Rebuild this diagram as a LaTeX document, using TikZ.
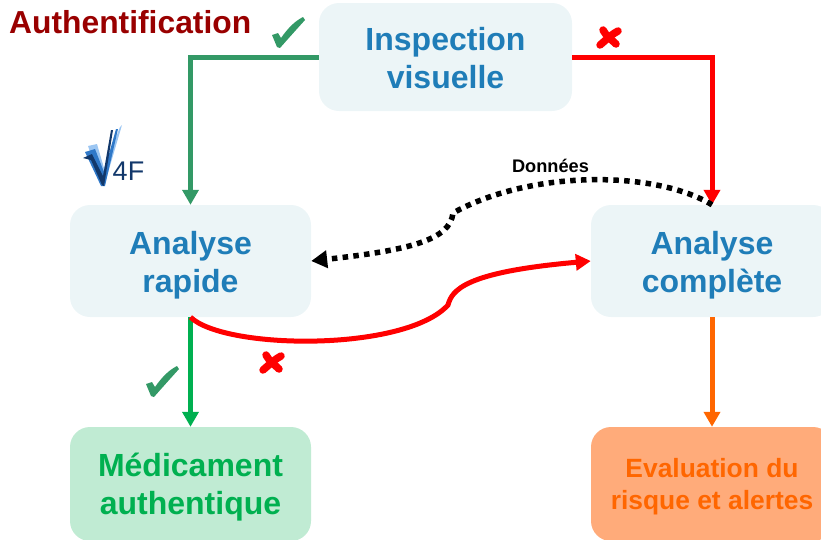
\documentclass[tikz,border=0pt]{standalone}
\usepackage{fontspec}
\setmainfont{Liberation Sans}
\usetikzlibrary{arrows.meta}

\definecolor{boxblue}{HTML}{ECF5F7}
\definecolor{textblue}{HTML}{1F7DB8}
\definecolor{boxgreen}{HTML}{C0EBD3}
\definecolor{textgreen}{HTML}{00B050}
\definecolor{linegreen}{HTML}{339966}
\definecolor{boxorange}{HTML}{FFAB7A}
\definecolor{textorange}{HTML}{FF6600}
\definecolor{titlered}{HTML}{990000}
\definecolor{logonavy}{HTML}{12386B}
\definecolor{logoblue}{HTML}{2F78C8}
\definecolor{logolight}{HTML}{9CC6F2}

\tikzset{
	etape/.style={draw=none,rounded corners=20pt,inner sep=0pt,align=center,text height=68pt,font=\bfseries\fontsize{32}{38}\selectfont},
	bleu/.style={etape,fill=boxblue,text=textblue,minimum width=241pt,minimum height=112pt},
	lien/.style={line width=5pt,-{Triangle[length=15pt,width=16pt]}},
	coche/.pic={\fill[linegreen] (-13,2) -- (-7,0) -- (-4,5) .. controls (3,-5) and (10,-12) .. (18,-16) -- (20,-13)
		.. controls (11,-3) and (2,7) .. (-5,15) -- (-8,14) -- cycle;},
	croix/.pic={\draw[red,line width=7.5pt,line cap=round] (-9,8) .. controls (-3,3) and (3,-3) .. (9,-6);
		\draw[red,line width=7.5pt,line cap=round] (-6,-7) .. controls (-3,-1) and (3,3) .. (7,7);}
}

\begin{document}
\begin{tikzpicture}[x=1pt,y=-1pt]
	\useasboundingbox (0,0) rectangle (821,539);
	\clip (0,0) rectangle (821,539);

	% boites
	\node[bleu,minimum width=253pt,minimum height=108pt,text height=64pt] (inspection) at (445.5,57) {Inspection\\visuelle};
	\node[bleu,text height=69pt] (rapide) at (190.5,261) {Analyse\\rapide};
	\node[bleu,minimum width=242pt,text height=69pt] (complete) at (712,261) {Analyse\\complète};
	\node[etape,fill=boxgreen,text=textgreen,minimum width=241pt,minimum height=114pt] (medicament) at (190.5,484) {Médicament\\authentique};
	\node[etape,fill=boxorange,text=textorange,minimum width=242pt,minimum height=114pt,text height=57pt,font=\bfseries\fontsize{26.4}{32}\selectfont] (evaluation) at (712,484) {Evaluation du\\risque et alertes};

	\node[anchor=west,inner sep=0pt,text=titlered,font=\bfseries\fontsize{31.8}{38}\selectfont] (titre) at (9,22) {Authentification};
	\node[inner sep=0pt,font=\bfseries\fontsize{18.2}{22}\selectfont] (donnees) at (550.5,166) {Données};

	% fleches droites
	\draw[lien,linegreen] (inspection.west) -| (rapide.north);
	\draw[lien,red] (inspection.east) -| (complete.north);
	\draw[lien,textgreen] (rapide.south) -- (medicament.north);
	\draw[lien,textorange] (complete.south) -- (evaluation.north);

	% courbes
	\draw[lien,red] (rapide.south) .. controls (225,350) and (405,352) .. (448,305)
		.. controls (452,290) and (465,272) .. (complete.west);
	\draw[line width=5.5pt,dash pattern=on 5.5pt off 5.3pt,-{Triangle[length=16pt,width=17pt]}] (complete.north)
		.. controls (655,170) and (530,170) .. (453,213)
		.. controls (450,240) and (410,250) .. (rapide.east);

	% coches et croix
	\pic at (285,33) {coche};
	\pic at (159,382) {coche};
	\pic at (609,37) {croix};
	\pic at (272,362) {croix};

	% logo
	\fill[logolight] (88,146) -- (97,144) -- (104,168) -- (120,127) -- (122,125) -- (105,183) -- (101,183) -- cycle;
	\fill[logoblue] (85,152) -- (95,149) -- (104,172) -- (116,129) -- (118,129) -- (105,186) -- (101,186) -- cycle;
	\fill[logonavy] (83,158) -- (92,154) -- (103,176) -- (111,130) -- (113,130) -- (104,186) -- (102,185) -- (91,160) -- cycle;
	\node[inner sep=0pt,text=logonavy,font=\fontsize{27}{30}\selectfont] (quatref) at (128.5,171.5) {4F};
\end{tikzpicture}
\end{document}
